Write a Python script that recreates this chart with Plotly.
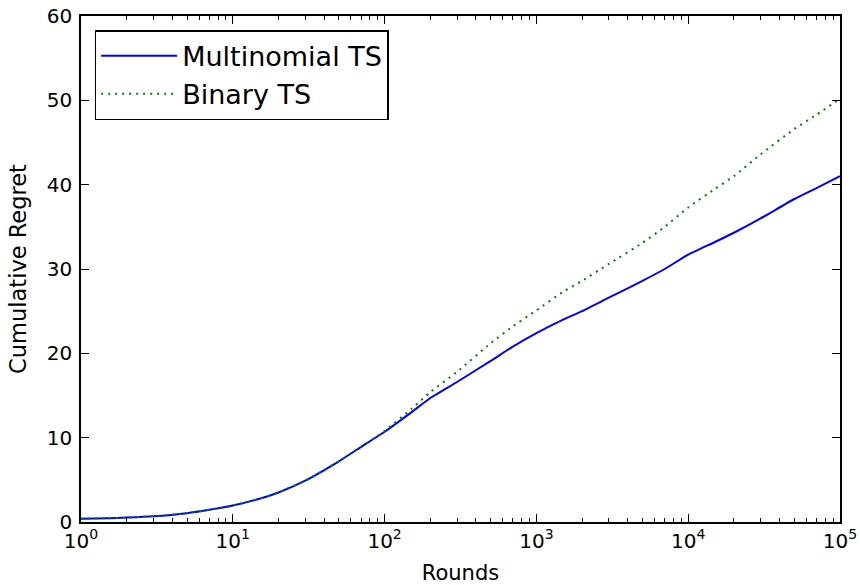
import plotly.graph_objects as go

rounds = [1, 1.5, 2, 3, 5, 7, 10, 15, 20, 30, 50, 70, 100, 150, 200, 300, 500, 700,
          1000, 1500, 2000, 3000, 5000, 7000, 10000, 15000, 20000, 30000, 50000, 70000, 100000]
multinomial_ts = [0.4, 0.45, 0.52, 0.68, 1.05, 1.45, 1.95, 2.75, 3.5, 4.9, 7.2, 8.9, 10.7,
                  13.0, 14.7, 16.6, 19.1, 20.8, 22.4, 24.0, 25.0, 26.6, 28.6, 30.0, 31.7,
                  33.2, 34.3, 36.0, 38.3, 39.6, 41.0]
binary_ts = [0.4, 0.45, 0.52, 0.68, 1.05, 1.45, 1.95, 2.75, 3.5, 4.9, 7.2, 8.9, 10.8,
             13.4, 15.4, 17.8, 21.2, 23.2, 25.1, 27.3, 28.6, 30.6, 33.1, 35.0, 37.3,
             39.5, 41.0, 43.6, 46.6, 48.3, 50.2]

x_tickvals = [1, 10, 100, 1000, 10000, 100000]
x_ticktext = ["10<sup>0</sup>", "10<sup>1</sup>", "10<sup>2</sup>", "10<sup>3</sup>",
              "10<sup>4</sup>", "10<sup>5</sup>"]
y_tickvals = [0, 10, 20, 30, 40, 50, 60]

FONT = "DejaVu Sans"

fig = go.Figure()
fig.add_trace(go.Scatter(x=rounds, y=multinomial_ts, mode="lines", name="Multinomial TS",
                         line=dict(color="#0000ff", width=2, shape="spline", smoothing=0.5)))
fig.add_trace(go.Scatter(x=rounds, y=binary_ts, mode="lines", name="Binary TS",
                         line=dict(color="#008000", width=2, dash="2px,5px",
                                   shape="spline", smoothing=0.5)))

axis_common = dict(showline=True, linecolor="black", linewidth=1.5, mirror="ticks",
                   ticks="inside", tickcolor="black", tickwidth=1.2, ticklen=8,
                   showgrid=False, zeroline=False,
                   tickfont=dict(family=FONT, size=20, color="black"))

fig.update_xaxes(type="log", range=[0, 5], tickvals=x_tickvals, ticktext=x_ticktext,
                 title=dict(text="Rounds", font=dict(family=FONT, size=21, color="black"),
                            standoff=22),
                 minor=dict(ticks="inside", ticklen=4, tickcolor="black", tickwidth=1,
                            dtick="D1", showgrid=False),
                 **axis_common)
fig.update_yaxes(range=[0, 60], tickvals=y_tickvals, ticklabelstandoff=3,
                 title=dict(text="Cumulative Regret", font=dict(family=FONT, size=22.5, color="black"),
                            standoff=14),
                 **axis_common)

fig.update_layout(
    width=860, height=585,
    margin=dict(l=81, r=20, t=16, b=63, autoexpand=False),
    paper_bgcolor="white", plot_bgcolor="white",
    font=dict(family=FONT, color="black"),
    showlegend=True,
    legend=dict(x=0.018, y=0.972, xanchor="left", yanchor="top",
                bgcolor="white", bordercolor="black", borderwidth=1.5,
                itemwidth=76,
                font=dict(family=FONT, size=27, color="black")),
)

fig.write_html("out.html", config={"displayModeBar": False},
               post_script="document.body.style.margin='0';document.body.style.overflow='hidden';")
